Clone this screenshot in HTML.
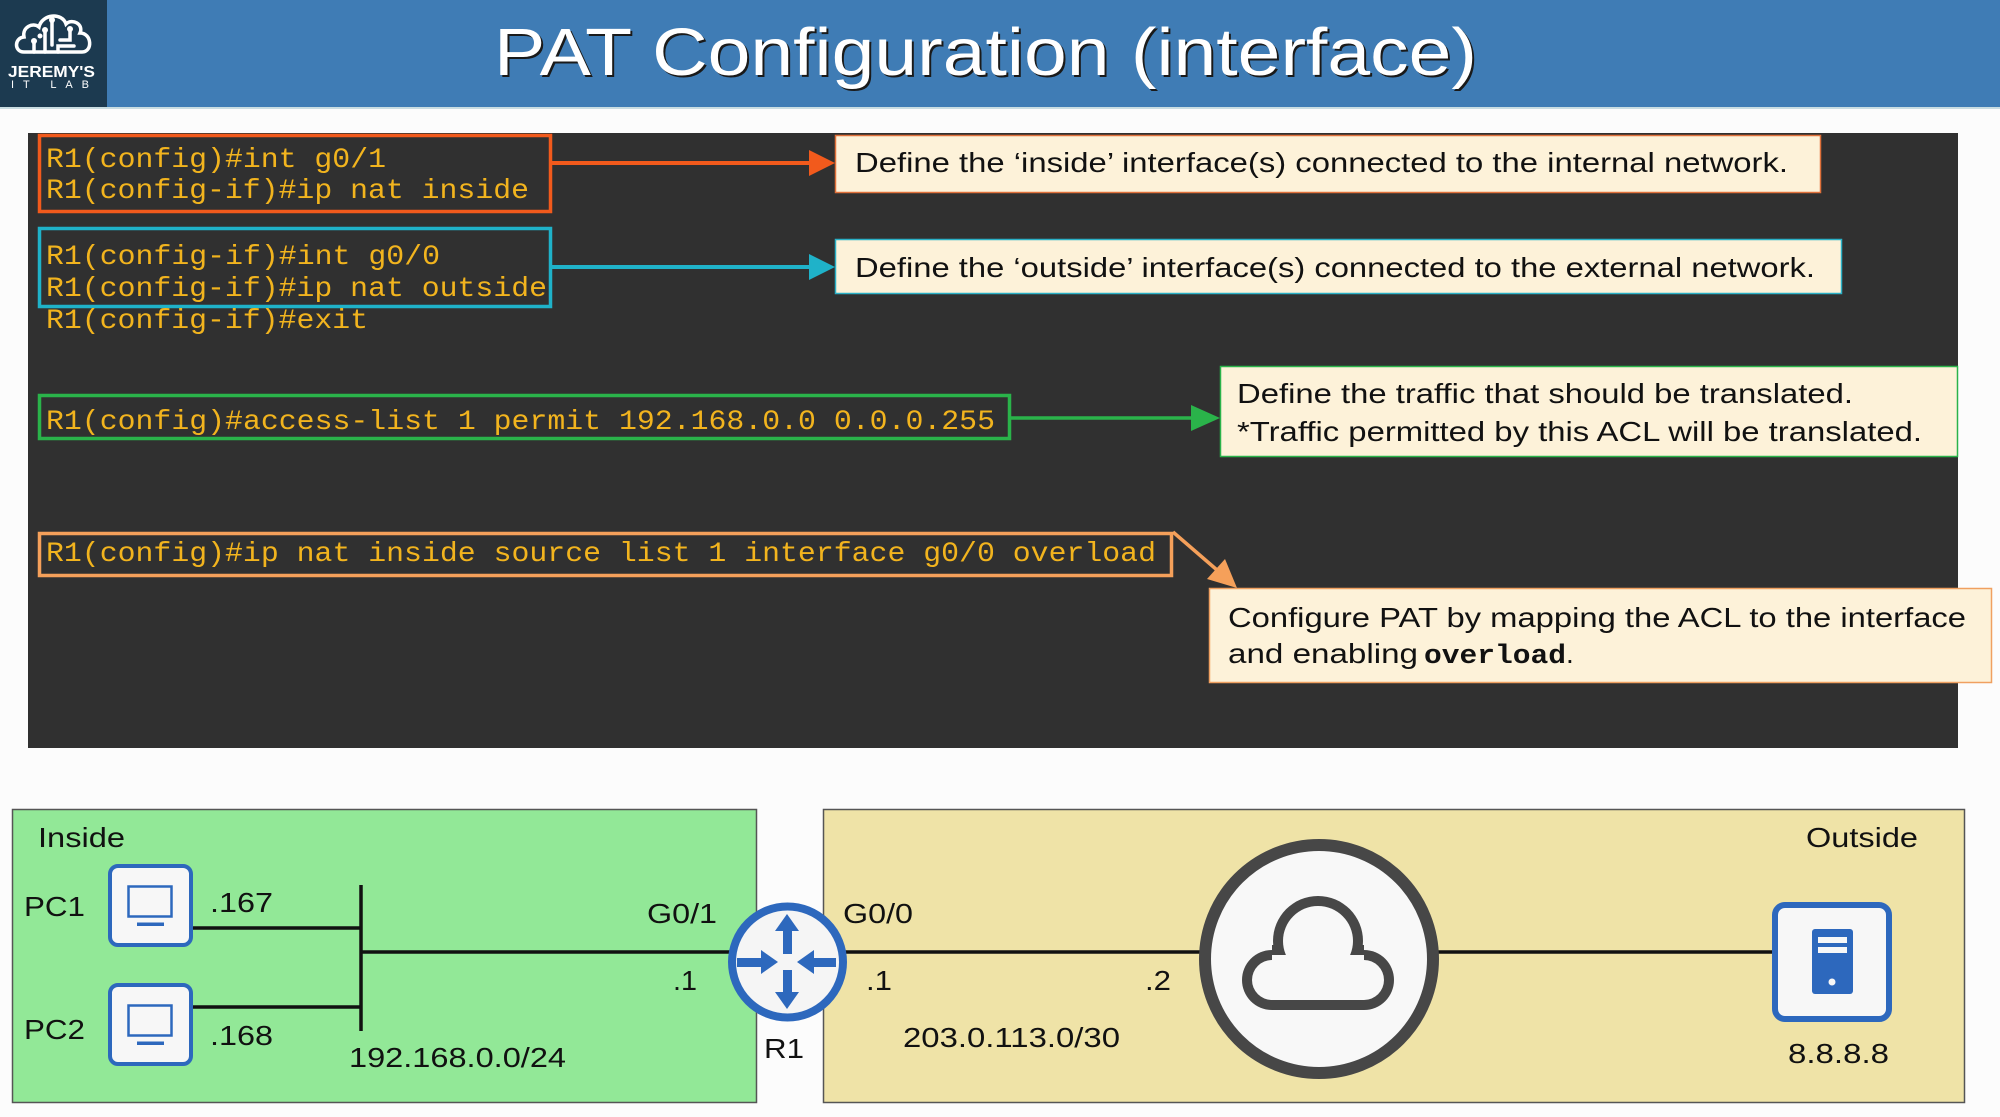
<!DOCTYPE html>
<html><head><meta charset="utf-8"><style>
html,body{margin:0;padding:0;background:#fcfcfc;width:2000px;height:1117px;overflow:hidden}
svg{display:block}
.s{font-family:"Liberation Sans",Arial,sans-serif}
.m{font-family:"Liberation Mono","DejaVu Sans Mono",monospace}
</style></head><body>
<svg width="2000" height="1117" viewBox="0 0 2000 1117" xmlns="http://www.w3.org/2000/svg">
<rect x="0" y="0" width="2000" height="1117" fill="#fcfcfc"/>
<!-- header -->
<rect x="0" y="0" width="2000" height="107" fill="#3f7cb5"/>
<rect x="0" y="107" width="2000" height="2" fill="#c9dde2"/>
<rect x="0" y="0" width="107" height="107" fill="#1c3a50"/>
<!-- logo cloud -->
<g fill="none" stroke="#fff" stroke-width="3.5" stroke-linecap="round">
<path d="M24,52 C14,52 14,38 24,37 C22,27 33,22 39,27 C42,14 62,12 66,24 C72,18 84,24 80,33 C92,33 93,52 82,52 Z"/>
<path d="M34,52 L34,42 M45,52 L45,30 M52,45 L52,20 M60,40 L70,40 L70,30 M58,52 L58,46 L74,46"/>
</g>
<g fill="#fff"><circle cx="34" cy="41" r="3"/><circle cx="45" cy="30" r="3"/><circle cx="52" cy="20" r="3"/><circle cx="70" cy="29" r="3"/><circle cx="40" cy="36" r="2.5"/></g>
<text x="8" y="77" class="s" font-size="16" font-weight="bold" fill="#fff" textLength="87" lengthAdjust="spacingAndGlyphs">JEREMY'S</text>
<text x="11" y="88" class="s" font-size="11" fill="#fff" textLength="78" lengthAdjust="spacing">IT LAB</text>
<!-- title -->
<text x="496" y="77" class="s" font-size="67" fill="#1a1a1a" textLength="983" lengthAdjust="spacingAndGlyphs">PAT Configuration (interface)</text>
<text x="494" y="75" class="s" font-size="67" fill="#ffffff" textLength="983" lengthAdjust="spacingAndGlyphs">PAT Configuration (interface)</text>

<!-- dark panel -->
<rect x="28" y="133" width="1930" height="615" fill="#303030"/>

<!-- boxes -->
<rect x="39.5" y="135.5" width="511" height="76" fill="none" stroke="#f25a1c" stroke-width="3.5"/>
<rect x="39.5" y="228.5" width="511" height="78" fill="none" stroke="#1fb2c9" stroke-width="3.5"/>
<rect x="39.5" y="395.5" width="970" height="43" fill="none" stroke="#2ab34a" stroke-width="3.5"/>
<rect x="39.5" y="533.5" width="1132" height="42" fill="none" stroke="#f5a05a" stroke-width="3.5"/>

<!-- code text -->
<g class="m" font-size="28" fill="#f2b41e">
<text x="46" y="167" textLength="340" lengthAdjust="spacingAndGlyphs">R1(config)#int g0/1</text>
<text x="46" y="198" textLength="483" lengthAdjust="spacingAndGlyphs">R1(config-if)#ip nat inside</text>
<text x="46" y="264" textLength="394" lengthAdjust="spacingAndGlyphs">R1(config-if)#int g0/0</text>
<text x="46" y="296" textLength="501" lengthAdjust="spacingAndGlyphs">R1(config-if)#ip nat outside</text>
<text x="46" y="328" textLength="322" lengthAdjust="spacingAndGlyphs">R1(config-if)#exit</text>
<text x="46" y="429" textLength="949" lengthAdjust="spacingAndGlyphs">R1(config)#access-list 1 permit 192.168.0.0 0.0.0.255</text>
<text x="46" y="561" textLength="1110" lengthAdjust="spacingAndGlyphs">R1(config)#ip nat inside source list 1 interface g0/0 overload</text>
</g>

<!-- arrows -->
<line x1="552" y1="163" x2="811" y2="163" stroke="#f25a1c" stroke-width="4"/>
<polygon points="809,150 835,163 809,176" fill="#f25a1c"/>
<line x1="552" y1="267" x2="811" y2="267" stroke="#1fb2c9" stroke-width="4"/>
<polygon points="809,254 835,267 809,280" fill="#1fb2c9"/>
<line x1="1011" y1="418" x2="1193" y2="418" stroke="#2ab34a" stroke-width="3.5"/>
<polygon points="1191,405 1220,418 1191,431" fill="#2ab34a"/>
<line x1="1173" y1="532" x2="1217" y2="570" stroke="#f5a05a" stroke-width="3.5"/>
<polygon points="1237,588 1207,579 1225,559" fill="#f5a05a"/>

<!-- callouts -->
<rect x="835.5" y="135.5" width="985" height="57" fill="#fdf2d9" stroke="#e0703a" stroke-width="1.5"/>
<rect x="835.5" y="239.5" width="1006" height="54" fill="#fdf2d9" stroke="#2ab0c6" stroke-width="1.5"/>
<rect x="1220.5" y="366.5" width="737" height="90" fill="#fdf2d9" stroke="#2ab34a" stroke-width="1.5"/>
<rect x="1209.5" y="588.5" width="782" height="94" fill="#fdf2d9" stroke="#f0a060" stroke-width="1.5"/>
<g class="s" font-size="28" fill="#111">
<text x="855" y="172" textLength="933" lengthAdjust="spacingAndGlyphs">Define the ‘inside’ interface(s) connected to the internal network.</text>
<text x="855" y="277" textLength="960" lengthAdjust="spacingAndGlyphs">Define the ‘outside’ interface(s) connected to the external network.</text>
<text x="1237" y="403" textLength="616" lengthAdjust="spacingAndGlyphs">Define the traffic that should be translated.</text>
<text x="1237" y="441" textLength="685" lengthAdjust="spacingAndGlyphs">*Traffic permitted by this ACL will be translated.</text>
<text x="1228" y="627" textLength="738" lengthAdjust="spacingAndGlyphs">Configure PAT by mapping the ACL to the interface</text>
<text x="1228" y="663" textLength="190" lengthAdjust="spacingAndGlyphs">and enabling</text>
<text x="1566" y="663">.</text>
</g>
<text x="1424" y="663" class="m" font-size="27" font-weight="bold" fill="#111" textLength="142" lengthAdjust="spacingAndGlyphs">overload</text>

<!-- bottom diagram -->
<rect x="12.5" y="809.5" width="744" height="293" fill="#92e897" stroke="#555" stroke-width="1.5"/>
<rect x="823.5" y="809.5" width="1141" height="293" fill="#efe3a7" stroke="#555" stroke-width="1.5"/>

<g stroke="#111" stroke-width="3.5">
<line x1="191" y1="928" x2="361" y2="928"/>
<line x1="191" y1="1007" x2="361" y2="1007"/>
<line x1="361" y1="885" x2="361" y2="1031"/>
<line x1="361" y1="952" x2="735" y2="952"/>
<line x1="840" y1="952" x2="1205" y2="952"/>
<line x1="1433" y1="952" x2="1775" y2="952"/>
</g>

<!-- PCs -->
<g>
<rect x="110" y="866" width="81" height="79" rx="8" fill="#f7f7f7" stroke="#2d68bd" stroke-width="4"/>
<rect x="128.5" y="886.5" width="43" height="30" fill="none" stroke="#2d68bd" stroke-width="2.5"/>
<rect x="137" y="922.5" width="27" height="3.5" fill="#2d68bd"/>
<rect x="110" y="985" width="81" height="79" rx="8" fill="#f7f7f7" stroke="#2d68bd" stroke-width="4"/>
<rect x="128.5" y="1005.5" width="43" height="30" fill="none" stroke="#2d68bd" stroke-width="2.5"/>
<rect x="137" y="1041.5" width="27" height="3.5" fill="#2d68bd"/>
</g>

<!-- router -->
<circle cx="787.5" cy="962" r="55.5" fill="#f5f5f5" stroke="#2d68bd" stroke-width="8"/>
<g fill="#2d68bd">
<polygon points="787,914 799,931 775,931"/><rect x="783" y="930" width="9" height="24"/>
<polygon points="787,1009 799,992 775,992"/><rect x="783" y="970" width="9" height="23"/>
<polygon points="778,962 761,950 761,974"/><rect x="737" y="958" width="25" height="9"/>
<polygon points="797,962 814,950 814,974"/><rect x="813" y="958" width="23" height="9"/>
</g>

<!-- internet cloud -->
<circle cx="1319" cy="959" r="114" fill="#f8f8f8" stroke="#474747" stroke-width="12"/>
<g fill="#474747">
<circle cx="1318" cy="941" r="45"/><circle cx="1272" cy="980" r="30"/><circle cx="1364" cy="980" r="30"/>
<rect x="1272" y="945" width="92" height="65"/>
</g>
<g fill="#f8f8f8">
<circle cx="1318" cy="941" r="35"/><circle cx="1272" cy="980" r="20"/><circle cx="1364" cy="980" r="20"/>
<rect x="1272" y="955" width="92" height="45"/>
</g>

<!-- server -->
<rect x="1775" y="905" width="114" height="114" rx="10" fill="#f7f7f7" stroke="#2d68bd" stroke-width="6"/>
<rect x="1812" y="929" width="41" height="65" rx="3" fill="#2d68bd"/>
<rect x="1818" y="937" width="29" height="6" fill="#f7f7f7"/>
<rect x="1818" y="947" width="29" height="6" fill="#f7f7f7"/>
<circle cx="1832" cy="982" r="3.5" fill="#f7f7f7"/>

<!-- labels -->
<g class="s" font-size="28" fill="#111">
<text x="38" y="847" textLength="87" lengthAdjust="spacingAndGlyphs">Inside</text>
<text x="24" y="916" textLength="61" lengthAdjust="spacingAndGlyphs">PC1</text>
<text x="24" y="1039" textLength="61" lengthAdjust="spacingAndGlyphs">PC2</text>
<text x="210" y="912" textLength="63" lengthAdjust="spacingAndGlyphs">.167</text>
<text x="210" y="1045" textLength="63" lengthAdjust="spacingAndGlyphs">.168</text>
<text x="647" y="923" textLength="70" lengthAdjust="spacingAndGlyphs">G0/1</text>
<text x="673" y="990" textLength="24" lengthAdjust="spacingAndGlyphs">.1</text>
<text x="349" y="1067" textLength="217" lengthAdjust="spacingAndGlyphs">192.168.0.0/24</text>
<text x="764" y="1058" textLength="40" lengthAdjust="spacingAndGlyphs">R1</text>
<text x="843" y="923" textLength="70" lengthAdjust="spacingAndGlyphs">G0/0</text>
<text x="866" y="990" textLength="26" lengthAdjust="spacingAndGlyphs">.1</text>
<text x="1145" y="990" textLength="26" lengthAdjust="spacingAndGlyphs">.2</text>
<text x="903" y="1047" textLength="217" lengthAdjust="spacingAndGlyphs">203.0.113.0/30</text>
<text x="1806" y="847" textLength="112" lengthAdjust="spacingAndGlyphs">Outside</text>
<text x="1788" y="1063" textLength="101" lengthAdjust="spacingAndGlyphs">8.8.8.8</text>
</g>
</svg>
</body></html>
